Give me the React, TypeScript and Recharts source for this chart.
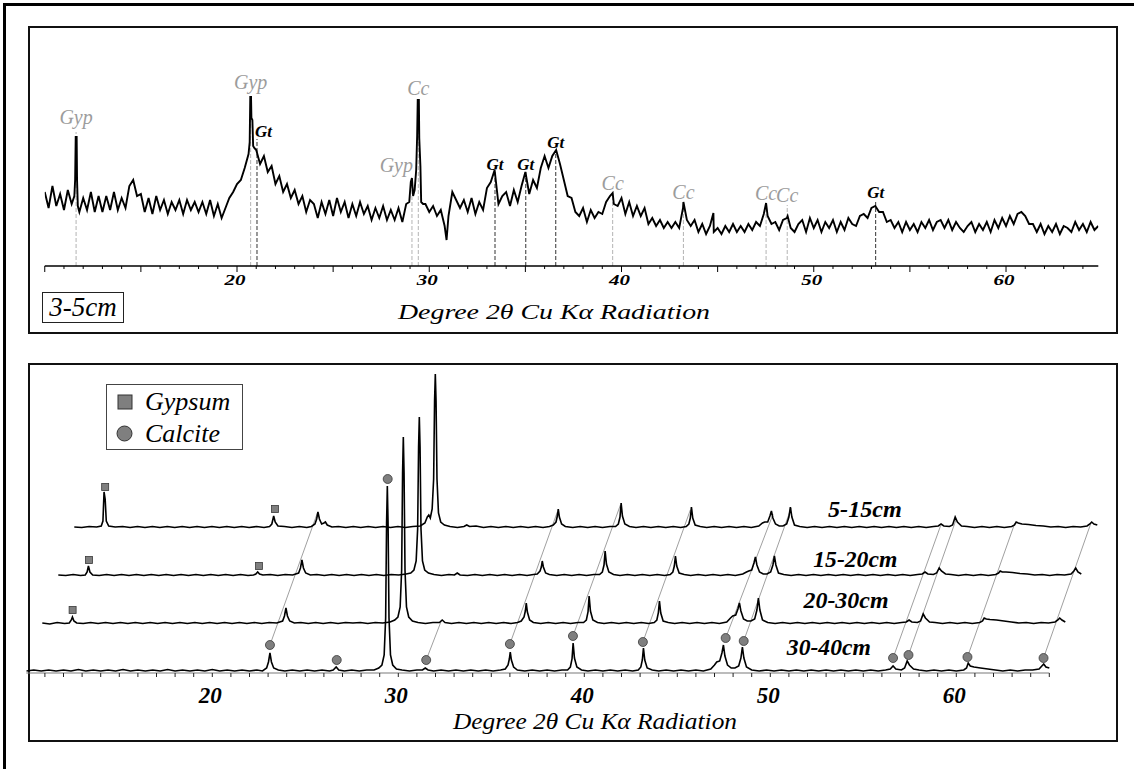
import React from "react";
import { ComposedChart, Line, Scatter, XAxis, YAxis, ReferenceLine, Legend } from "recharts";

const SERIF = '"Liberation Serif", "Times New Roman", serif';

// ---- upper panel: 3-5cm, counts every 0.2 deg from 10 deg (null = taken by sharp list)
const TOP_START = 10;
const TOP_STEP = 0.2;
const TOP_COUNTS = [
  74, 58, 80, 60, 72, 56, 76, 62, null, 54,
  68, 56, 74, 54, 70, 54, 70, 56, 74, 56,
  68, 58, 80, 86, 70, 72, 54, 68, 52, 70,
  56, 66, 52, 64, 56, 66, 52, 66, 56, 64,
  54, 64, 52, 66, 50, 62, 48, 58, 68, 74,
  82, 86, 98, 112, null, 116, 102, 110, 94, 100,
  82, 90, 74, 82, 68, 76, 62, 70, 54, 66,
  62, 48, 64, 52, 66, 50, 68, 54, 64, 48,
  62, 50, 64, 52, 60, 46, 58, 48, 60, 46,
  56, 46, 58, 44, 62, null, null, null, null, 62,
  54, 60, 50, 56, 40, 50, 74, 66, 58, 66,
  54, 68, 52, 64, 56, 78, 84, 96, 62, 70,
  74, 60, 76, 64, 80, 94, 72, 86, 78, 98,
  110, 98, 110, 116, 102, 86, 70, 68, 54, 50,
  58, 44, 56, 48, 54, 52, 64, 70, 62, 60,
  68, 52, 64, 50, 60, 50, 58, 42, 48, 40,
  46, 38, 44, 38, 44, 38, 58, 46, 40, 46,
  34, 42, 32, 40, 34, 38, 32, 40, 34, 42,
  34, 40, 34, 42, 36, 44, 40, 52, 50, 42,
  44, 36, 46, 48, 38, 34, 42, 46, 34, 48,
  38, 46, 34, 44, 38, 46, 34, 44, 36, 48,
  42, 40, 50, 52, 48, 58, 60, 54, 54, 44,
  46, 38, 44, 34, 44, 36, 42, 34, 44, 38,
  46, 36, 44, 46, 38, 46, 36, 44, 38, 34,
  40, 44, 34, 42, 36, 44, 34, 46, 38, 48,
  40, 50, 42, 52, 54, 50, 42, 42, 34, 42,
  32, 40, 34, 42, 32, 40, 38, 34, 44, 36,
  42, 34, 44, 36, 40,
];

// sharp reflections, read at finer spacing
const TOP_SHARP = [
  [11.54, 70], [11.58, 86], [11.61, 129], [11.66, 129], [11.68, 86], [11.72, 60],
  [20.66, 124], [20.69, 169], [20.73, 169], [20.75, 148], [20.8, 146], [20.84, 120], [20.9, 118],
  [28.96, 64], [29.04, 84], [29.1, 88], [29.16, 70], [29.24, 76], [29.32, 96], [29.37, 130],
  [29.4, 166], [29.46, 166], [29.48, 128], [29.54, 100], [29.58, 64], [29.68, 62],
  [30.9, 26], [39.54, 73], [43.22, 64], [44.78, 53], [47.52, 63], [48.64, 50],
];

const TOP_PEAK_DEG = [11.63, 20.71, 21.04, 29.1, 29.43, 33.42, 35.02, 36.58, 39.54, 43.22, 47.52, 48.62, 53.22];
const TOP_PEAK_PHASE = ["Gyp", "Gyp", "Gt", "Gyp", "Cc", "Gt", "Gt", "Gt", "Cc", "Cc", "Cc", "Cc", "Gt"];
const TOP_PEAK_TOP = [134, 169, 127, 86, 168, 94, 94, 116, 73, 64, 63, 61, 66];

const TOP_TICKS = [
  10, 11, 12, 13, 14, 15, 16, 17, 18, 19, 20, 21, 22, 23, 24, 25, 26, 27, 28, 29,
  30, 31, 32, 33, 34, 35, 36, 37, 38, 39, 40, 41, 42, 43, 44, 45, 46, 47, 48, 49,
  50, 51, 52, 53, 54, 55, 56, 57, 58, 59, 60, 61, 62, 63, 64,
];
const TOP_TICK_LABELS = [20, 30, 40, 50, 60];

// ---- lower panel: stacked patterns, deepest first
const TRACE_NAMES = ["30-40cm", "20-30cm", "15-20cm", "5-15cm"];

const T30_40 = [
  [10.0, 2], [10.4, 3], [10.8, 2], [11.2, 3], [11.6, 2], [12.0, 3], [12.4, 2], [12.8, 3.5], [13.2, 2], [13.6, 3],
  [14.0, 2], [14.4, 3], [14.8, 2], [15.2, 3.5], [15.6, 2], [16.0, 3], [16.4, 2], [16.8, 3], [17.2, 2], [17.6, 3.5],
  [18.0, 2], [18.4, 3], [18.8, 2], [19.2, 3], [19.6, 2], [20.0, 3.5], [20.4, 2], [20.8, 3], [21.2, 2], [21.6, 3],
  [22.0, 2], [22.4, 3], [22.7, 2], [22.92, 5], [23.02, 11], [23.1, 20], [23.18, 11], [23.3, 5], [23.55, 3],
  [23.9, 2], [24.3, 3], [24.7, 2], [25.1, 3], [25.5, 2], [25.9, 3], [26.3, 2], [26.5, 3], [26.66, 6], [26.8, 3],
  [27.1, 2], [27.5, 3], [27.9, 2], [28.3, 3], [28.7, 3], [28.95, 5],
  [29.12, 8], [29.24, 18], [29.32, 55], [29.37, 150], [29.41, 187], [29.45, 150], [29.5, 55], [29.58, 18], [29.7, 8], [29.9, 4],
  [30.2, 3], [30.6, 2], [31.0, 3], [31.3, 3], [31.45, 5], [31.6, 3], [31.9, 2],
  [32.3, 3], [32.7, 2], [33.1, 3], [33.5, 2], [33.9, 3], [34.3, 2], [34.7, 3], [35.1, 2], [35.5, 3],
  [35.75, 4], [35.9, 8], [35.97, 14], [36.02, 21], [36.08, 13], [36.2, 6], [36.4, 3],
  [36.8, 2], [37.2, 3], [37.6, 2], [38.0, 3], [38.4, 2], [38.8, 3], [39.1, 3],
  [39.25, 6], [39.34, 14], [39.4, 30], [39.47, 15], [39.6, 6], [39.85, 3],
  [40.2, 2], [40.6, 3], [41.0, 2], [41.4, 3], [41.8, 2], [42.2, 3], [42.6, 2], [42.9, 3],
  [43.04, 6], [43.12, 13], [43.18, 25], [43.25, 13], [43.38, 5], [43.65, 3],
  [44.0, 2], [44.4, 3], [44.8, 2], [45.2, 3], [45.6, 2], [46.0, 3], [46.4, 2], [46.8, 4],
  [47.0, 8], [47.12, 11], [47.28, 12], [47.4, 20], [47.48, 28], [47.56, 17], [47.7, 8], [47.9, 5], [48.1, 5], [48.3, 7],
  [48.42, 15], [48.5, 26], [48.58, 15], [48.72, 6], [49.0, 3],
  [49.4, 2], [49.8, 3], [50.2, 2], [50.6, 3], [51.0, 2], [51.4, 3], [51.8, 2], [52.2, 3], [52.6, 2], [53.0, 3],
  [53.4, 2], [53.8, 3], [54.2, 2], [54.6, 3], [55.0, 2], [55.4, 3], [55.8, 2], [56.2, 3],
  [56.45, 4], [56.6, 7], [56.75, 4], [57.05, 3], [57.22, 5], [57.36, 12], [57.48, 8], [57.7, 4], [58.0, 3],
  [58.4, 2], [58.8, 3], [59.2, 2], [59.6, 3], [60.0, 2], [60.4, 3],
  [60.55, 5], [60.64, 10], [60.75, 7], [60.95, 6], [61.3, 5], [61.7, 4], [62.1, 3],
  [62.5, 2], [62.9, 3], [63.3, 2], [63.7, 3], [64.1, 3], [64.45, 4], [64.6, 7], [64.7, 9], [64.82, 6], [65.0, 5],
];

const T20_30 = [
  [10.0, 2], [10.4, 1], [10.8, 2.5], [11.2, 1.5], [11.45, 2], [11.56, 5], [11.62, 8], [11.7, 4], [11.85, 2],
  [12.2, 1.5], [12.6, 2.5], [13.0, 1.5], [13.4, 2.5], [13.8, 1.5], [14.2, 2.5], [14.6, 1.5], [15.0, 2.5], [15.4, 1.5],
  [15.8, 2.5], [16.2, 1.5], [16.6, 2.5], [17.0, 1.5], [17.4, 2.5], [17.8, 1.5], [18.2, 2.5], [18.6, 1.5], [19.0, 2.5],
  [19.4, 1.5], [19.8, 2.5], [20.2, 1.5], [20.6, 2.5], [21.0, 1.5], [21.4, 2.5], [21.8, 1.5], [22.2, 2.5], [22.6, 2],
  [22.92, 4], [23.02, 9], [23.1, 17], [23.18, 9], [23.3, 4], [23.55, 2],
  [23.9, 2.5], [24.3, 1.5], [24.7, 2.5], [25.1, 1.5], [25.5, 2.5], [25.9, 1.5], [26.3, 2.5], [26.7, 2], [27.1, 2.5],
  [27.5, 1.5], [27.9, 2.5], [28.3, 2], [28.7, 3], [28.95, 5],
  [29.12, 8], [29.24, 18], [29.32, 55], [29.37, 152], [29.41, 188], [29.45, 152], [29.5, 55], [29.58, 18], [29.7, 8], [29.9, 4],
  [30.2, 2.5], [30.6, 1.5], [31.0, 2.5], [31.35, 2.5], [31.5, 5], [31.65, 2.5], [32.0, 1.5],
  [32.4, 2.5], [32.8, 1.5], [33.2, 2.5], [33.6, 1.5], [34.0, 2.5], [34.4, 1.5], [34.8, 2.5], [35.2, 1.5], [35.55, 2.5],
  [35.75, 4], [35.9, 8], [35.97, 14], [36.02, 22], [36.08, 13], [36.2, 5], [36.4, 2.5],
  [36.8, 1.5], [37.2, 2.5], [37.6, 1.5], [38.0, 2.5], [38.4, 1.5], [38.8, 2.5], [39.1, 2.5],
  [39.25, 5], [39.34, 13], [39.4, 29], [39.47, 14], [39.6, 5], [39.85, 2.5],
  [40.2, 1.5], [40.6, 2.5], [41.0, 1.5], [41.4, 2.5], [41.8, 1.5], [42.2, 2.5], [42.6, 1.5], [42.9, 2.5],
  [43.04, 5], [43.12, 12], [43.18, 24], [43.25, 12], [43.38, 4], [43.65, 2.5],
  [44.0, 1.5], [44.4, 2.5], [44.8, 1.5], [45.2, 2.5], [45.6, 1.5], [46.0, 2.5], [46.4, 1.5], [46.8, 3],
  [47.0, 7], [47.12, 9], [47.28, 10], [47.4, 16], [47.48, 22], [47.56, 14], [47.7, 6], [47.9, 4], [48.1, 4], [48.3, 6],
  [48.42, 15], [48.5, 27], [48.58, 15], [48.72, 5], [49.0, 2.5],
  [49.4, 1.5], [49.8, 2.5], [50.2, 1.5], [50.6, 2.5], [51.0, 1.5], [51.4, 2.5], [51.8, 1.5], [52.2, 2.5], [52.6, 1.5],
  [53.0, 2.5], [53.4, 1.5], [53.8, 2.5], [54.2, 1.5], [54.6, 2.5], [55.0, 1.5], [55.4, 2.5], [55.8, 1.5], [56.2, 2.5],
  [56.45, 3], [56.6, 5], [56.75, 3], [57.05, 2.5], [57.22, 4], [57.36, 11], [57.48, 7], [57.7, 3], [58.0, 2.5],
  [58.4, 1.5], [58.8, 2.5], [59.2, 1.5], [59.6, 2.5], [60.0, 1.5], [60.4, 2.5],
  [60.55, 4], [60.64, 7], [60.75, 6], [60.95, 5.5], [61.3, 5], [61.7, 4], [62.1, 3],
  [62.5, 2], [62.9, 2.5], [63.3, 1.5], [63.7, 2.5], [64.1, 2], [64.45, 3], [64.6, 5], [64.7, 7], [64.82, 5], [65.0, 3],
];

const T15_20 = [
  [10.0, 2], [10.4, 1.5], [10.8, 2.5], [11.2, 1.5], [11.45, 2], [11.55, 5], [11.62, 11], [11.7, 5], [11.85, 2],
  [12.2, 1.5], [12.6, 2.5], [13.0, 1.5], [13.4, 2.5], [13.8, 1.5], [14.2, 2.5], [14.6, 1.5], [15.0, 2.5], [15.4, 1.5],
  [15.8, 2.5], [16.2, 1.5], [16.6, 2.5], [17.0, 1.5], [17.4, 2.5], [17.8, 1.5], [18.2, 2.5], [18.6, 1.5], [19.0, 2.5],
  [19.4, 1.5], [19.8, 2.5], [20.2, 1.5], [20.5, 2], [20.62, 3], [20.72, 5], [20.82, 3], [21.0, 2],
  [21.4, 2.5], [21.8, 1.5], [22.2, 2.5], [22.6, 2],
  [22.92, 4], [23.02, 9], [23.1, 17], [23.18, 9], [23.3, 4], [23.55, 2],
  [23.9, 2.5], [24.3, 1.5], [24.7, 2.5], [25.1, 1.5], [25.5, 2.5], [25.9, 1.5], [26.3, 2.5], [26.7, 1.5], [27.1, 2.5],
  [27.5, 1.5], [27.9, 2.5], [28.3, 2], [28.7, 3], [28.95, 4],
  [29.12, 7], [29.24, 16], [29.32, 48], [29.37, 130], [29.41, 160], [29.45, 130], [29.5, 48], [29.58, 16], [29.7, 7], [29.9, 4],
  [30.2, 2.5], [30.6, 1.5], [31.0, 2.5], [31.3, 2], [31.45, 4], [31.6, 2], [32.0, 1.5],
  [32.4, 2.5], [32.8, 1.5], [33.2, 2.5], [33.6, 1.5], [34.0, 2.5], [34.4, 1.5], [34.8, 2.5], [35.2, 1.5], [35.55, 2.5],
  [35.75, 3], [35.9, 6], [35.97, 10], [36.02, 16], [36.08, 10], [36.2, 4], [36.4, 2.5],
  [36.8, 1.5], [37.2, 2.5], [37.6, 1.5], [38.0, 2.5], [38.4, 1.5], [38.8, 2.5], [39.1, 2.5],
  [39.25, 5], [39.34, 12], [39.4, 26], [39.47, 13], [39.6, 5], [39.85, 2.5],
  [40.2, 1.5], [40.6, 2.5], [41.0, 1.5], [41.4, 2.5], [41.8, 1.5], [42.2, 2.5], [42.6, 1.5], [42.9, 2.5],
  [43.04, 5], [43.12, 11], [43.18, 21], [43.25, 11], [43.38, 4], [43.65, 2.5],
  [44.0, 1.5], [44.4, 2.5], [44.8, 1.5], [45.2, 2.5], [45.6, 1.5], [46.0, 2.5], [46.4, 1.5], [46.8, 3],
  [47.0, 5], [47.12, 6], [47.28, 7], [47.4, 14], [47.48, 20], [47.56, 12], [47.7, 5], [47.9, 3], [48.1, 3], [48.3, 5],
  [48.42, 12], [48.5, 21], [48.58, 12], [48.72, 4], [49.0, 2.5],
  [49.4, 1.5], [49.8, 2.5], [50.2, 1.5], [50.6, 2.5], [51.0, 1.5], [51.4, 2.5], [51.8, 1.5], [52.2, 2.5], [52.6, 1.5],
  [53.0, 2.5], [53.4, 1.5], [53.8, 2.5], [54.2, 1.5], [54.6, 2.5], [55.0, 1.5], [55.4, 2.5], [55.8, 1.5], [56.2, 2.5],
  [56.45, 3], [56.6, 5], [56.75, 3], [57.05, 2.5], [57.22, 4], [57.36, 9], [57.48, 6], [57.7, 3], [58.0, 2.5],
  [58.4, 1.5], [58.8, 2.5], [59.2, 1.5], [59.6, 2.5], [60.0, 1.5], [60.4, 2.5],
  [60.55, 4], [60.64, 6], [60.75, 5], [60.95, 5], [61.3, 4.5], [61.7, 3.5], [62.1, 3],
  [62.5, 2], [62.9, 2.5], [63.3, 1.5], [63.7, 2.5], [64.1, 2], [64.45, 3], [64.6, 6], [64.7, 9], [64.82, 5], [65.0, 3],
];

const T5_15 = [
  [10.0, 2], [10.4, 1.5], [10.8, 2.5], [11.2, 2], [11.45, 3], [11.54, 8], [11.6, 37], [11.66, 30], [11.72, 8], [11.85, 3],
  [12.2, 2], [12.6, 2.5], [13.0, 1.5], [13.4, 2.5], [13.8, 1.5], [14.2, 2.5], [14.6, 1.5], [15.0, 2.5], [15.4, 1.5],
  [15.8, 2.5], [16.2, 1.5], [16.6, 2.5], [17.0, 1.5], [17.4, 2.5], [17.8, 1.5], [18.2, 2.5], [18.6, 1.5], [19.0, 2.5],
  [19.4, 1.5], [19.8, 2.5], [20.2, 1.5], [20.5, 2.5], [20.62, 5], [20.72, 13], [20.8, 7], [20.95, 3],
  [21.3, 2.5], [21.7, 1.5], [22.1, 2.5], [22.5, 1.5], [22.75, 2.5],
  [22.94, 5], [23.03, 10], [23.1, 17], [23.18, 10], [23.3, 5], [23.42, 6], [23.5, 7], [23.6, 4], [23.85, 2],
  [24.2, 2.5], [24.6, 1.5], [25.0, 2.5], [25.4, 1.5], [25.8, 2.5], [26.2, 1.5], [26.6, 2.5], [27.0, 1.5], [27.4, 2.5],
  [27.8, 1.5], [28.2, 2.5], [28.6, 3], [28.85, 6], [28.98, 12], [29.06, 14], [29.14, 11],
  [29.24, 20], [29.32, 50], [29.37, 128], [29.41, 155], [29.45, 128], [29.5, 50], [29.58, 16], [29.7, 7], [29.9, 4],
  [30.2, 2.5], [30.6, 1.5], [30.95, 2.5], [31.1, 4], [31.25, 2.5], [31.6, 3], [32.0, 1.5],
  [32.4, 2.5], [32.8, 1.5], [33.2, 2.5], [33.6, 1.5], [34.0, 2.5], [34.4, 1.5], [34.8, 2.5], [35.2, 1.5], [35.55, 2.5],
  [35.75, 4], [35.9, 7], [35.97, 13], [36.02, 20], [36.08, 12], [36.2, 5], [36.4, 2.5],
  [36.8, 1.5], [37.2, 2.5], [37.6, 1.5], [38.0, 2.5], [38.4, 1.5], [38.8, 2.5], [39.1, 2.5],
  [39.25, 5], [39.34, 12], [39.4, 26], [39.47, 13], [39.6, 5], [39.85, 2.5],
  [40.2, 1.5], [40.6, 2.5], [41.0, 1.5], [41.4, 2.5], [41.8, 1.5], [42.2, 2.5], [42.6, 1.5], [42.9, 2.5],
  [43.04, 5], [43.12, 11], [43.18, 22], [43.25, 11], [43.38, 4], [43.65, 2.5],
  [44.0, 1.5], [44.4, 2.5], [44.8, 1.5], [45.2, 2.5], [45.6, 1.5], [46.0, 2.5], [46.4, 1.5], [46.8, 3],
  [47.0, 6], [47.12, 7], [47.28, 7], [47.4, 13], [47.48, 18], [47.56, 11], [47.7, 5], [47.9, 3], [48.1, 3], [48.3, 5],
  [48.42, 12], [48.5, 22], [48.58, 12], [48.72, 4], [49.0, 2.5],
  [49.4, 1.5], [49.8, 2.5], [50.2, 1.5], [50.6, 2.5], [51.0, 1.5], [51.4, 2.5], [51.8, 1.5], [52.2, 2.5], [52.6, 1.5],
  [53.0, 2.5], [53.4, 1.5], [53.8, 2.5], [54.2, 1.5], [54.6, 2.5], [55.0, 1.5], [55.4, 2.5], [55.8, 1.5], [56.2, 2.5],
  [56.45, 3], [56.6, 5], [56.75, 3], [57.05, 2.5], [57.22, 4], [57.36, 12], [57.48, 7], [57.7, 3], [58.0, 2.5],
  [58.4, 1.5], [58.8, 2.5], [59.2, 1.5], [59.6, 2.5], [60.0, 1.5], [60.4, 2.5],
  [60.55, 4], [60.64, 7], [60.75, 6], [60.95, 5], [61.3, 4.5], [61.7, 3.5], [62.1, 3],
  [62.5, 2], [62.9, 2.5], [63.3, 1.5], [63.7, 2.5], [64.1, 2], [64.45, 3], [64.6, 5], [64.7, 7], [64.82, 5], [65.0, 4],
];

const TRACES = [T30_40, T20_30, T15_20, T5_15];

// phase markers, in each pattern's own coordinates
const CALCITE_MARKS = [
  [23.1, 28], [26.69, 13], [29.43, 194], [31.5, 13], [36.0, 29], [39.39, 37], [43.15, 31],
  [47.6, 35], [48.57, 32], [56.6, 15], [57.43, 18], [60.6, 16], [64.69, 15],
];
const GYPSUM_MARKS = [
  [],
  [[11.63, 15]],
  [[11.65, 17], [20.79, 11]],
  [[11.66, 42], [20.79, 20]],
];
// [deg, marker height, pattern reached, peak top in that pattern]
const CALCITE_LINKS = [
  [23.1, 28, 3, 16], [31.5, 13, 1, 5], [36.0, 29, 3, 17], [39.39, 37, 3, 24], [43.15, 31, 3, 19],
  [47.6, 35, 3, 15], [48.57, 32, 3, 21], [56.6, 15, 3, 3], [57.43, 18, 3, 9], [60.6, 16, 3, 6], [64.69, 15, 3, 6],
];

const BOTTOM_TICKS = [
  11, 12, 13, 14, 15, 16, 17, 18, 19, 20, 21, 22, 23, 24, 25, 26, 27, 28, 29, 30,
  31, 32, 33, 34, 35, 36, 37, 38, 39, 40, 41, 42, 43, 44, 45, 46, 47, 48, 49, 50,
  51, 52, 53, 54, 55, 56, 57, 58, 59, 60, 61, 62, 63, 64, 65,
];
const BOTTOM_TICK_LABELS = [20, 30, 40, 50, 60];

// waterfall offset between successive patterns
const SHIFT_DEG = 0.86;
const LIFT = 48;
const SPAN = 300;

// label anchors (center x in deg, baseline in counts) per pattern
const TRACE_LABEL_AT = [[53.15, 18], [53.21, 17], [52.85, 10], [52.51, 12]];
const TRACE_LABEL_WIDTH = [84, 85, 84, 74];

const topSeries = [
  ...TOP_COUNTS.map((y, i) => ({ x: Math.round((TOP_START + i * TOP_STEP) * 100) / 100, y })).filter((p) => p.y !== null),
  ...TOP_SHARP.map(([x, y]) => ({ x, y })),
].sort((a, b) => a.x - b.x);

const LABEL_LIFT = { Gyp: 8, Cc: 3, Gt: 2 };
const LABEL_ANCHOR = { 2: "start", 3: "end" };
const topLabels = TOP_PEAK_DEG.map((x, i) => ({
  x,
  y: TOP_PEAK_TOP[i] + LABEL_LIFT[TOP_PEAK_PHASE[i]],
  text: TOP_PEAK_PHASE[i],
  anchor: LABEL_ANCHOR[i] || "middle",
}));

const toXY = (pts) => pts.map(([x, y]) => ({ x, y }));

const PhaseLabel = (props: any) => {
  const { cx, cy, payload } = props;
  const gt = payload.text === "Gt";
  const dx = payload.anchor === "start" ? -2 : payload.anchor === "end" ? 1 : 0;
  return (
    <text x={cx + dx} y={cy} textAnchor={payload.anchor} fontFamily={SERIF} fontStyle="italic"
      fontWeight={gt ? 700 : 400} fontSize={gt ? 17 : 20} fill={gt ? "#000" : "#9c9c9c"}>
      {payload.text}
    </text>
  );
};

const TopTick = (props: any) => {
  const { x, y, payload } = props;
  const v = payload.value;
  return (
    <g>
      <line x1={x} x2={x} y1={y} y2={y + (v % 5 === 0 ? 6 : 3)} stroke="#000" strokeWidth={1} />
      {TOP_TICK_LABELS.includes(v) && (
        <text x={x - 2} y={y + 19} textAnchor="middle" fontFamily={SERIF} fontStyle="italic" fontWeight={700}
          fontSize={15} textLength={21} lengthAdjust="spacingAndGlyphs" fill="#000">{v}</text>
      )}
    </g>
  );
};

const BottomTick = (props: any) => {
  const { x, y, payload } = props;
  const v = payload.value;
  return (
    <g>
      <line x1={x} x2={x} y1={y} y2={y + 4} stroke="#222" strokeWidth={1} />
      {BOTTOM_TICK_LABELS.includes(v) && (
        <text x={x - 2} y={y + 30} textAnchor="middle" fontFamily={SERIF} fontStyle="italic" fontWeight={700}
          fontSize={23} fill="#000">{v}</text>
      )}
    </g>
  );
};

const TopTitle = () => (
  <text x={554} y={319} textAnchor="middle" fontFamily={SERIF} fontStyle="italic" fontSize={21}
    textLength={312} lengthAdjust="spacingAndGlyphs" fill="#000">Degree 2θ Cu Kα Radiation</text>
);

const BottomTitle = () => (
  <text x={595} y={366} textAnchor="middle" fontFamily={SERIF} fontStyle="italic" fontSize={24}
    textLength={284} lengthAdjust="spacingAndGlyphs" fill="#000">Degree 2θ  Cu Kα Radiation</text>
);

const GypsumMark = (props: any) => (
  <rect x={props.cx - 3.5} y={props.cy - 3.5} width={7} height={7} fill="#7f7f7f" stroke="#3a3a3a" strokeWidth={0.8} />
);
const CalciteMark = (props: any) => (
  <circle cx={props.cx} cy={props.cy} r={4.5} fill="#7f7f7f" stroke="#3a3a3a" strokeWidth={0.8} />
);

const MineralKey = () => (
  <div style={{ width: 137, height: 66, boxSizing: "border-box", border: "1px solid #444", background: "#fff",
    fontFamily: SERIF, fontStyle: "italic", fontSize: 26, color: "#000", paddingTop: 1 }}>
    <div style={{ display: "flex", alignItems: "center", height: 32 }}>
      <svg width={16} height={16} style={{ marginLeft: 10, marginRight: 12 }}>
        <rect x={1} y={1} width={14} height={14} fill="#7f7f7f" stroke="#333" />
      </svg>
      Gypsum
    </div>
    <div style={{ display: "flex", alignItems: "center", height: 31 }}>
      <svg width={17} height={17} style={{ marginLeft: 9, marginRight: 12 }}>
        <circle cx={8.5} cy={8.5} r={7.5} fill="#7f7f7f" stroke="#333" />
      </svg>
      Calcite
    </div>
  </div>
);

export default function App() {
  const ids = ["p0", "p1", "p2", "p3"];
  return (
    <div style={{ position: "absolute", left: 0, top: 0, width: 1134, height: 769, background: "#fff", overflow: "hidden" }}>
      <div style={{ position: "absolute", left: 3, top: 3, width: 1131, height: 766, borderLeft: "3px solid #000", borderTop: "3px solid #000" }} />
      <div style={{ position: "absolute", left: 28, top: 26, width: 1090, height: 308, boxSizing: "border-box", border: "2px solid #111" }} />
      <div style={{ position: "absolute", left: 28, top: 363, width: 1090, height: 379, boxSizing: "border-box", border: "2px solid #111" }} />
      <div style={{ position: "absolute", left: 42, top: 292, width: 82, height: 31, boxSizing: "border-box", border: "1px solid #222",
        fontFamily: SERIF, fontStyle: "italic", fontSize: 27, lineHeight: "29px", textAlign: "center", color: "#000" }}>3-5cm</div>

      <div style={{ position: "absolute", left: 0, top: 0 }}>
        <ComposedChart width={1134} height={340} margin={{ top: 66, right: 35.7, bottom: 44, left: 44.75 }}>
          <XAxis xAxisId="top" type="number" dataKey="x" domain={[10, 64.8]} allowDataOverflow ticks={TOP_TICKS}
            interval={0} tick={TopTick} tickLine={false} tickSize={0} tickMargin={0} height={30}
            axisLine={{ stroke: "#000", strokeWidth: 1.6 }} label={TopTitle} />
          <YAxis yAxisId="top" type="number" dataKey="y" domain={[0, 200]} allowDataOverflow hide />
          {TOP_PEAK_DEG.map((d, i) => (
            <ReferenceLine key={"pk" + i} xAxisId="top" yAxisId="top" ifOverflow="visible"
              segment={[{ x: d, y: 0 }, { x: d, y: TOP_PEAK_TOP[i] }]}
              stroke={TOP_PEAK_PHASE[i] === "Gt" ? "#333" : "#b4b4b4"} strokeWidth={1} strokeDasharray="4 2" />
          ))}
          <Line xAxisId="top" yAxisId="top" data={topSeries} dataKey="y" type="linear" stroke="#000" strokeWidth={1.9}
            dot={false} activeDot={false} isAnimationActive={false} legendType="none" />
          <Scatter xAxisId="top" yAxisId="top" data={topLabels} dataKey="y" shape={PhaseLabel} isAnimationActive={false} legendType="none" />
        </ComposedChart>
      </div>

      <div style={{ position: "absolute", left: 0, top: 363 }}>
        <ComposedChart width={1134} height={379} margin={{ top: 10, right: 28.9, bottom: 29, left: 26.3 }}>
          <XAxis xAxisId="p0" type="number" dataKey="x" domain={[10, 68]} allowDataOverflow ticks={BOTTOM_TICKS}
            interval={0} tick={BottomTick} tickLine={false} tickSize={0} tickMargin={0} height={40}
            axisLine={false} label={BottomTitle} />
          {[1, 2, 3].map((k) => (
            <XAxis key={"x" + k} xAxisId={ids[k]} type="number" dataKey="x" hide allowDataOverflow
              domain={[10 - k * SHIFT_DEG, 68 - k * SHIFT_DEG]} />
          ))}
          {[0, 1, 2, 3].map((k) => (
            <YAxis key={"y" + k} yAxisId={ids[k]} type="number" dataKey="y" hide allowDataOverflow
              domain={[-k * LIFT, SPAN - k * LIFT]} />
          ))}
          <ReferenceLine xAxisId="p0" yAxisId="p0" ifOverflow="visible" segment={[{ x: 10, y: 0 }, { x: 65, y: 0 }]}
            stroke="#7a7a7a" strokeWidth={1.2} />
          {CALCITE_LINKS.map(([d, low, k, top], i) => (
            <ReferenceLine key={"ln" + i} xAxisId="p0" yAxisId="p0" ifOverflow="visible"
              segment={[{ x: d, y: low }, { x: d + k * SHIFT_DEG - 0.03, y: k * LIFT + top }]}
              stroke="#a0a0a0" strokeWidth={1} />
          ))}
          {TRACES.map((t, k) => (
            <Line key={"tr" + k} xAxisId={ids[k]} yAxisId={ids[k]} data={toXY(t)} dataKey="y" type="linear"
              stroke="#000" strokeWidth={1.6} dot={false} activeDot={false} isAnimationActive={false} legendType="none" />
          ))}
          <Scatter name="Calcite" xAxisId="p0" yAxisId="p0" data={toXY(CALCITE_MARKS)} dataKey="y" shape={CalciteMark}
            isAnimationActive={false} />
          {[1, 2, 3].map((k) => (
            <Scatter key={"gy" + k} name="Gypsum" xAxisId={ids[k]} yAxisId={ids[k]} data={toXY(GYPSUM_MARKS[k])} dataKey="y"
              shape={GypsumMark} isAnimationActive={false} />
          ))}
          {TRACE_NAMES.map((name, k) => (
            <Scatter key={"nm" + k} xAxisId={ids[k]} yAxisId={ids[k]} isAnimationActive={false} legendType="none"
              data={[{ x: TRACE_LABEL_AT[k][0], y: TRACE_LABEL_AT[k][1], name }]} dataKey="y"
              shape={(p: any) => (
                <text x={p.cx} y={p.cy} textAnchor="middle" fontFamily={SERIF} fontStyle="italic" fontWeight={700}
                  fontSize={23} textLength={TRACE_LABEL_WIDTH[k]} lengthAdjust="spacingAndGlyphs" fill="#000">{name}</text>
              )} />
          ))}
          <Legend layout="vertical" align="center" verticalAlign="middle" content={MineralKey}
            wrapperStyle={{ left: 106, top: 21, width: 137, height: 66 }} />
        </ComposedChart>
      </div>
    </div>
  );
}
